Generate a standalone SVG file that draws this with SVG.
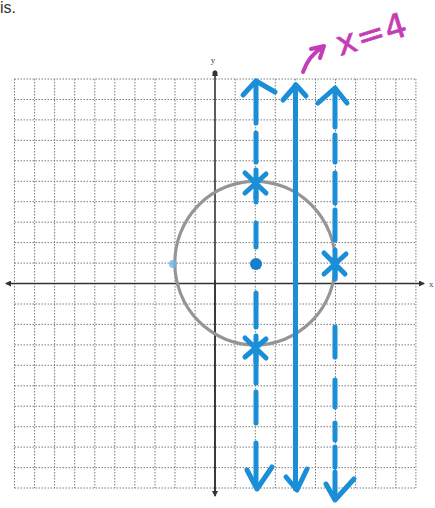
<svg xmlns="http://www.w3.org/2000/svg" width="435" height="508" viewBox="0 0 435 508">
<defs>
<style>
.grid{stroke:#7a7a7a;stroke-width:1;stroke-dasharray:1.5 1.5;fill:none}
.axis{stroke:#333;stroke-width:1.6;fill:none}
.blue{stroke:#1a8fd8;stroke-width:5;stroke-linecap:round;stroke-linejoin:round;fill:none}
.pink{stroke:#c43db6;stroke-width:4;stroke-linecap:round;stroke-linejoin:round;fill:none}
</style>
<marker id="ah" markerWidth="6" markerHeight="6" refX="5" refY="3" orient="auto" markerUnits="userSpaceOnUse">
<path d="M0,0 L6,3 L0,6 Z" fill="#333"/>
</marker>
</defs>
<rect width="435" height="508" fill="#fff"/>
<text x="0" y="13" font-family="Liberation Sans, Arial, sans-serif" font-size="16" fill="#333">is.</text>
<g id="grid" class="grid">
<path d="M14.5,79V488M34.6,79V488M54.6,79V488M74.7,79V488M94.8,79V488M114.8,79V488M134.9,79V488M155,79V488M175,79V488M195.1,79V488M235.2,79V488M255.3,79V488M275.3,79V488M295.4,79V488M315.5,79V488M335.5,79V488M355.6,79V488M375.7,79V488M395.8,79V488M415.9,79V488"/>
<path d="M14.5,79H416M14.5,99.5H416M14.5,119.9H416M14.5,140.4H416M14.5,160.8H416M14.5,181.3H416M14.5,201.7H416M14.5,222.2H416M14.5,242.6H416M14.5,263.1H416M14.5,304H416M14.5,324.4H416M14.5,344.9H416M14.5,365.3H416M14.5,385.8H416M14.5,406.2H416M14.5,426.7H416M14.5,447.1H416M14.5,467.6H416M14.5,488H416"/>
</g>
<g id="axes">
<line class="axis" x1="215" y1="495" x2="215" y2="71" marker-end="url(#ah)"/>
<line class="axis" x1="215" y1="280" x2="215" y2="496" marker-end="url(#ah)"/>
<line class="axis" x1="215" y1="283.5" x2="6" y2="283.5" marker-end="url(#ah)"/>
<line class="axis" x1="215" y1="283.5" x2="424" y2="283.5" marker-end="url(#ah)"/>
<circle cx="215" cy="73" r="2.5" fill="#333"/>
<text x="213" y="63" font-family="Liberation Serif, serif" font-size="9" fill="#444" text-anchor="middle">y</text>
<text x="429" y="287" font-family="Liberation Serif, serif" font-size="9" fill="#444">x</text>
</g>
<g id="circle">
<ellipse cx="255.1" cy="263.1" rx="80.3" ry="81.8" fill="none" stroke="#959595" stroke-width="3.2"/>
<circle cx="173" cy="264" r="4" fill="#6fb6e6" opacity="0.8"/>
</g>
<g id="connectors">
<g id="line-x2" class="blue">
<path d="M256,81V123M256,133V162M256,193V202M256,223V247M256,293V327M256,353V383M256,392V423M256,443V484"/>
<path d="M243,95 L256,81 L275,92"/>
<path d="M247,470 L257,489 L272,467"/>
</g>
<g id="line-x4" class="blue">
<path d="M295.5,85V489"/>
<path d="M283,100 L296,85 L306,96"/>
<path d="M286,477 L297,490 L307,469"/>
</g>
<g id="line-x6" class="blue">
<path d="M335,89V127M335,135V162M335,173V203M335,210V240M335,268V278M335,327V357M335,380V407M335,423V440M335,447V467M335,472V498"/>
<path d="M318,103 L335,88 L347,103"/>
<path d="M326,484 L335,500 L354,479"/>
</g>
</g>
<g id="points">
<circle cx="256" cy="264" r="6" fill="#1a7fc8"/>
<g class="blue" stroke-width="4.5">
<path d="M245,173L266,193M266,174L245,193M256,170V198"/>
<path d="M245,338L266,358M266,339L245,357M256,336V362"/>
<path d="M324,253L345,274M346,254L324,274M335,250V279"/>
</g>
</g>
<g id="label">
<path class="pink" d="M303,72 Q309,55 323,47"/>
<path class="pink" d="M311,49 L324,46 L320,58"/>
<text x="340" y="56" transform="rotate(-17 340 56)" font-family="DejaVu Sans, sans-serif" font-size="34" letter-spacing="1" fill="#c43db6" stroke="#c43db6" stroke-width="0.6">x=4</text>
</g>
</svg>
